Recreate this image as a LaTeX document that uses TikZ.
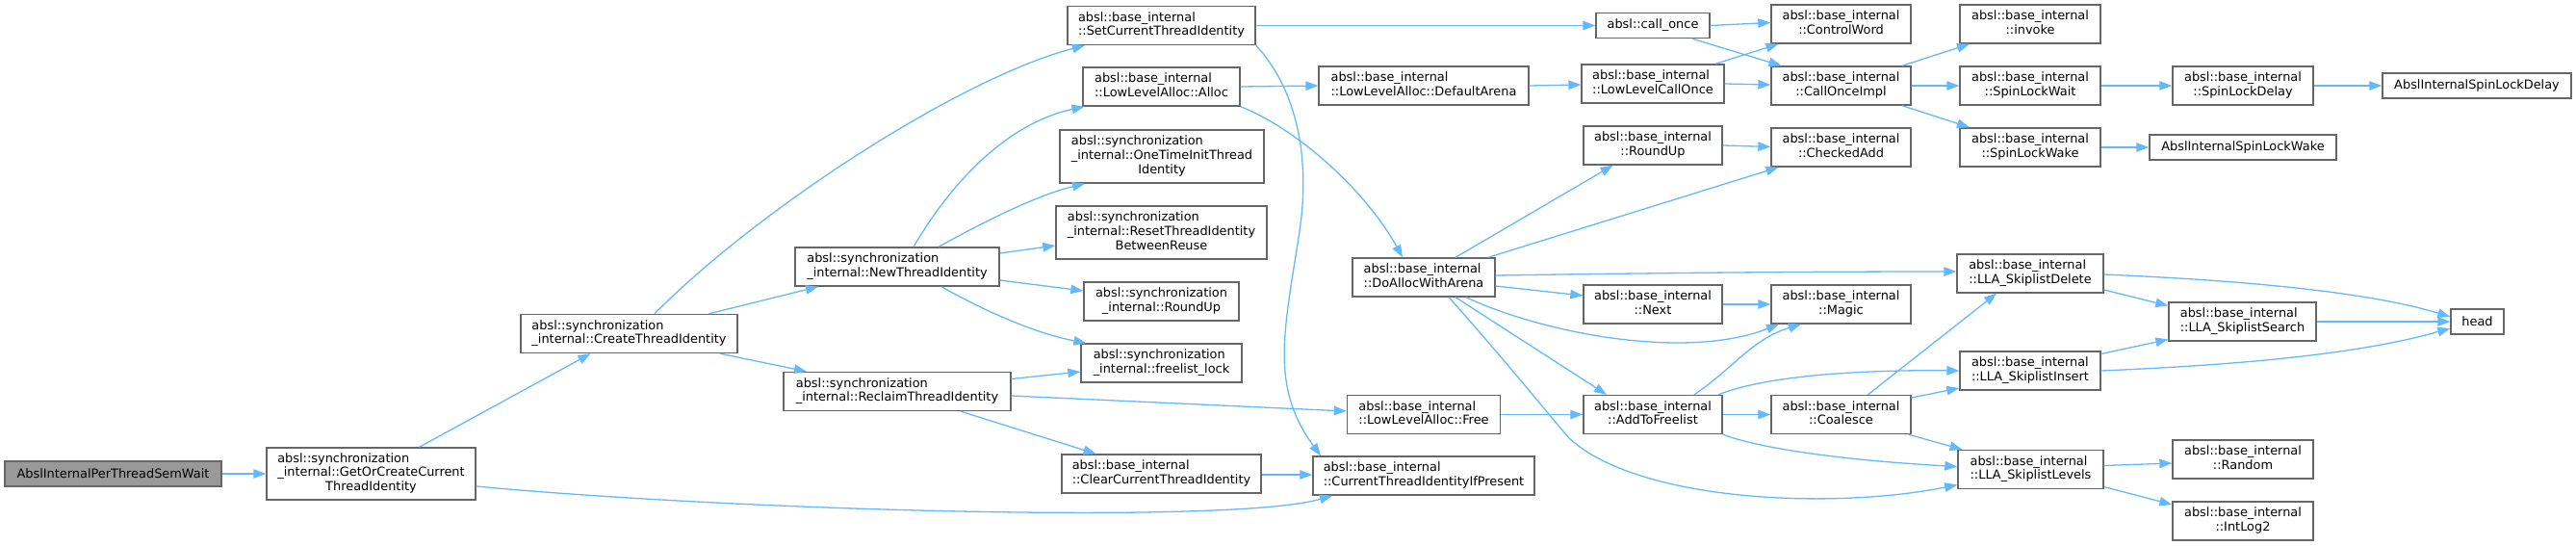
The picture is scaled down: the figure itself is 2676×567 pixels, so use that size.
\documentclass[tikz,border=0pt]{standalone}
\usepackage{fontspec}
\setmainfont{DejaVu Sans}
\usetikzlibrary{arrows.meta}
\definecolor{edgecol}{HTML}{63B8FF}
\definecolor{boxcol}{HTML}{666666}
\definecolor{rootfill}{HTML}{999999}
\newcommand{\twol}[2]{\begin{tabular}{@{}l@{}}#1\\\multicolumn{1}{@{}c@{}}{#2}\end{tabular}}
\newcommand{\threel}[3]{\begin{tabular}{@{}l@{}}#1\\#2\\\multicolumn{1}{@{}c@{}}{#3}\end{tabular}}
\tikzset{
  fbox/.style={draw=boxcol, line width=1.4pt, fill=white, inner sep=0pt, minimum height=40pt,
    font=\fontsize{12.9}{14.8}\selectfont, text=black},
  rootbox/.style={fbox, fill=rootfill, draw=boxcol},
  call/.style={draw=edgecol, line width=1.3pt, -{Triangle[length=13pt,width=9.5pt]}, fill=none},
}
\begin{document}
\begin{tikzpicture}[x=1pt,y=-1pt]
\useasboundingbox (0,0) rectangle (2676,567);
% column 0-3
\node[rootbox, minimum width=225pt, minimum height=26pt] (root) at (117.5,492) {AbslInternalPerThreadSemWait};
\node[fbox, minimum width=217pt, minimum height=54pt] (goc) at (385.5,492) {\threel{absl::synchronization}{\_internal::GetOrCreateCurrent}{ThreadIdentity}};
\node[fbox, minimum width=225pt] (cti) at (653.5,346.5) {\twol{absl::synchronization}{\_internal::CreateThreadIdentity}};
\node[fbox, minimum width=212pt] (nti) at (932,277) {\twol{absl::synchronization}{\_internal::NewThreadIdentity}};
\node[fbox, minimum width=236pt] (rti) at (932,406.5) {\twol{absl::synchronization}{\_internal::ReclaimThreadIdentity}};
% column 4
\node[fbox, minimum width=195pt] (sct) at (1206.5,26.5) {\twol{absl::base\_internal}{::SetCurrentThreadIdentity}};
\node[fbox, minimum width=163pt] (alloc) at (1206.5,90) {\twol{absl::base\_internal}{::LowLevelAlloc::Alloc}};
\node[fbox, minimum width=212pt, minimum height=55pt] (ot) at (1207,162.5) {\threel{absl::synchronization}{\_internal::OneTimeInitThread}{Identity}};
\node[fbox, minimum width=219pt, minimum height=55pt] (reset) at (1206.5,241.5) {\threel{absl::synchronization}{\_internal::ResetThreadIdentity}{BetweenReuse}};
\node[fbox, minimum width=161pt] (sru) at (1206.5,313) {\twol{absl::synchronization}{\_internal::RoundUp}};
\node[fbox, minimum width=167pt] (fl) at (1206.5,377) {\twol{absl::synchronization}{\_internal::freelist\_lock}};
\node[fbox, minimum width=207pt] (clr) at (1206.5,492) {\twol{absl::base\_internal}{::ClearCurrentThreadIdentity}};
% column 5
\node[fbox, minimum width=230pt] (pres) at (1479,494) {\twol{absl::base\_internal}{::CurrentThreadIdentityIfPresent}};
\node[fbox, minimum width=218pt] (darena) at (1479,89) {\twol{absl::base\_internal}{::LowLevelAlloc::DefaultArena}};
\node[fbox, minimum width=148pt] (da) at (1479,288) {\twol{absl::base\_internal}{::DoAllocWithArena}};
\node[fbox, minimum width=159pt] (free) at (1479,430.5) {\twol{absl::base\_internal}{::LowLevelAlloc::Free}};
% column 6
\node[fbox, minimum width=118pt, minimum height=26pt] (co) at (1717,26.5) {absl::call\_once};
\node[fbox, minimum width=148pt] (llco) at (1717,87) {\twol{absl::base\_internal}{::LowLevelCallOnce}};
\node[fbox, minimum width=144pt] (bru) at (1717,151) {\twol{absl::base\_internal}{::RoundUp}};
\node[fbox, minimum width=144pt] (next) at (1717,316) {\twol{absl::base\_internal}{::Next}};
\node[fbox, minimum width=144pt] (atf) at (1717,430.5) {\twol{absl::base\_internal}{::AddToFreelist}};
% column 7
\node[fbox, minimum width=145pt] (cw) at (1912.5,25) {\twol{absl::base\_internal}{::ControlWord}};
\node[fbox, minimum width=145pt] (coi) at (1912.5,89) {\twol{absl::base\_internal}{::CallOnceImpl}};
\node[fbox, minimum width=145pt] (ca) at (1912.5,153) {\twol{absl::base\_internal}{::CheckedAdd}};
\node[fbox, minimum width=145pt] (magic) at (1912.5,316) {\twol{absl::base\_internal}{::Magic}};
\node[fbox, minimum width=145pt] (coal) at (1912.5,430.5) {\twol{absl::base\_internal}{::Coalesce}};
% column 8
\node[fbox, minimum width=146pt] (inv) at (2109,25) {\twol{absl::base\_internal}{::invoke}};
\node[fbox, minimum width=146pt] (slw) at (2109,89) {\twol{absl::base\_internal}{::SpinLockWait}};
\node[fbox, minimum width=146pt] (slwk) at (2109,153) {\twol{absl::base\_internal}{::SpinLockWake}};
\node[fbox, minimum width=152pt] (sdel) at (2109,284) {\twol{absl::base\_internal}{::LLA\_SkiplistDelete}};
\node[fbox, minimum width=146pt] (sins) at (2109,385) {\twol{absl::base\_internal}{::LLA\_SkiplistInsert}};
\node[fbox, minimum width=151pt] (slev) at (2109.5,487.5) {\twol{absl::base\_internal}{::LLA\_SkiplistLevels}};
% column 9
\node[fbox, minimum width=146pt] (sld) at (2330,89) {\twol{absl::base\_internal}{::SpinLockDelay}};
\node[fbox, minimum width=194pt, minimum height=26pt] (aslwk) at (2330,153) {AbslInternalSpinLockWake};
\node[fbox, minimum width=153pt] (ssrch) at (2329.5,334) {\twol{absl::base\_internal}{::LLA\_SkiplistSearch}};
\node[fbox, minimum width=146pt] (rand) at (2330,477) {\twol{absl::base\_internal}{::Random}};
\node[fbox, minimum width=146pt] (ilog) at (2330,541) {\twol{absl::base\_internal}{::IntLog2}};
% column 10
\node[fbox, minimum width=196pt, minimum height=26pt] (asld) at (2573,89) {AbslInternalSpinLockDelay};
\node[fbox, minimum width=55pt, minimum height=26pt] (head) at (2573.5,334) {head};

% edges
\draw[call] (root.east) -- (goc.west);
\draw[call] ([xshift=50pt]goc.north) -- ([xshift=-40pt]cti.south);
\draw[call] ([yshift=-13pt]goc.east) .. controls (760,530) and (1280,545) .. ([xshift=-95pt]pres.south);
\draw[call] ([xshift=26.5pt]cti.north) .. controls (790,215) and (1000,80) .. ([xshift=-79.5pt]sct.south);
\draw[call] ([xshift=83pt]cti.north) -- ([xshift=-82pt]nti.south);
\draw[call] ([xshift=94.5pt]cti.south) -- ([xshift=-94pt]rti.north);
\draw[call] ([xshift=17pt]nti.north) .. controls (1000,170) and (1060,125) .. ([xshift=-80pt]alloc.south);
\draw[call] ([xshift=43pt]nti.north) .. controls (1030,226) and (1080,202) .. ([xshift=-80pt]ot.south);
\draw[call] ([yshift=14pt]nti.east) -- ([yshift=-13.5pt]reset.west);
\draw[call] ([yshift=-14pt]nti.east) -- ([yshift=11pt]sru.west);
\draw[call] ([xshift=46pt]nti.south) .. controls (1030,327) and (1080,347) .. ([xshift=-78pt]fl.north);
\draw[call] ([yshift=13pt]rti.east) -- ([yshift=-9pt]fl.west);
\draw[call] ([yshift=-4.5pt]rti.east) -- ([yshift=3.5pt]free.west);
\draw[call] ([xshift=66pt]rti.south) -- ([xshift=-68pt]clr.north);
\draw[call] ([yshift=-1pt]clr.east) -- ([yshift=1pt]pres.west);
\draw[call] (sct.east) -- (co.west);
\draw[call] (sct.south east) .. controls (1345,90) and (1362,160) .. (1350,240) .. controls (1335,340) and (1318,400) .. ([xshift=-107pt]pres.north);
\draw[call] (alloc.east) -- (darena.west);
\draw[call] (alloc.south east) .. controls (1350,135) and (1420,200) .. ([xshift=-22pt]da.north);
\draw[call] (darena.east) -- ([yshift=-1pt]llco.west);
\draw[call] (co.east) -- ([yshift=1.5pt]cw.west);
\draw[call] ([xshift=41pt]co.south) -- ([xshift=-62pt]coi.north);
\draw[call] ([xshift=65pt]llco.north) -- ([xshift=-65pt]cw.south);
\draw[call] (llco.east) -- ([yshift=1pt]coi.west);
\draw[call] ([xshift=63.5pt]coi.north) -- ([xshift=-63pt]inv.south);
\draw[call] (coi.east) -- (slw.west);
\draw[call] ([xshift=63.5pt]coi.south) -- ([xshift=-63pt]slwk.north);
\draw[call] (slw.east) -- (sld.west);
\draw[call] (sld.east) -- (asld.west);
\draw[call] (slwk.east) -- (aslwk.west);
\draw[call] ([xshift=33pt]da.north) -- ([xshift=-41.5pt]bru.south);
\draw[call] ([xshift=67pt]da.north) -- ([xshift=-65pt]ca.south);
\draw[call] ([yshift=2pt]da.east) .. controls (1750,283) and (1900,282) .. ([yshift=2pt]sdel.west);
\draw[call] ([yshift=-9pt]da.east) -- ([yshift=9pt]next.west);
\draw[call] ([xshift=44pt]da.south) .. controls (1600,345) and (1750,375) .. ([xshift=-64.5pt]magic.south);
\draw[call] ([xshift=33pt]da.south) -- ([xshift=-48pt]atf.north);
\draw[call] ([xshift=26pt]da.south) .. controls (1560,370) and (1600,420) .. (1630,455) .. controls (1700,520) and (1900,530) .. ([yshift=-16pt]slev.west);
\draw[call] (free.east) -- (atf.west);
\draw[call] (bru.east) -- ([yshift=0.5pt]ca.west);
\draw[call] (next.east) -- (magic.west);
\draw[call] ([xshift=43pt]atf.north) .. controls (1800,383) and (1820,352) .. ([xshift=-41.5pt]magic.south);
\draw[call] ([xshift=68pt]atf.north) .. controls (1840,388) and (1950,384) .. (sins.west);
\draw[call] (atf.east) -- (coal.west);
\draw[call] (atf.south east) .. controls (1840,470) and (1950,480) .. ([yshift=3pt]slev.west);
\draw[call] ([xshift=28pt]coal.north) -- ([xshift=-35pt]sdel.south);
\draw[call] ([yshift=17.5pt]coal.east) -- ([yshift=-18pt]sins.west);
\draw[call] ([xshift=70pt]coal.south) -- ([xshift=-71pt]slev.north);
\draw[call] ([yshift=-1pt]sdel.east) .. controls (2300,290) and (2450,300) .. ([yshift=5pt]head.west);
\draw[call] ([yshift=-17pt]sdel.east) -- ([yshift=16.5pt]ssrch.west);
\draw[call] (ssrch.east) -- (head.west);
\draw[call] (sins.east) .. controls (2350,378) and (2460,365) .. ([yshift=-7pt]head.west);
\draw[call] ([yshift=17.5pt]sins.east) -- ([yshift=-18.5pt]ssrch.west);
\draw[call] ([yshift=4pt]slev.east) -- ([yshift=-4pt]rand.west);
\draw[call] ([yshift=-18pt]slev.east) -- ([yshift=17pt]ilog.west);
\end{tikzpicture}
\end{document}
